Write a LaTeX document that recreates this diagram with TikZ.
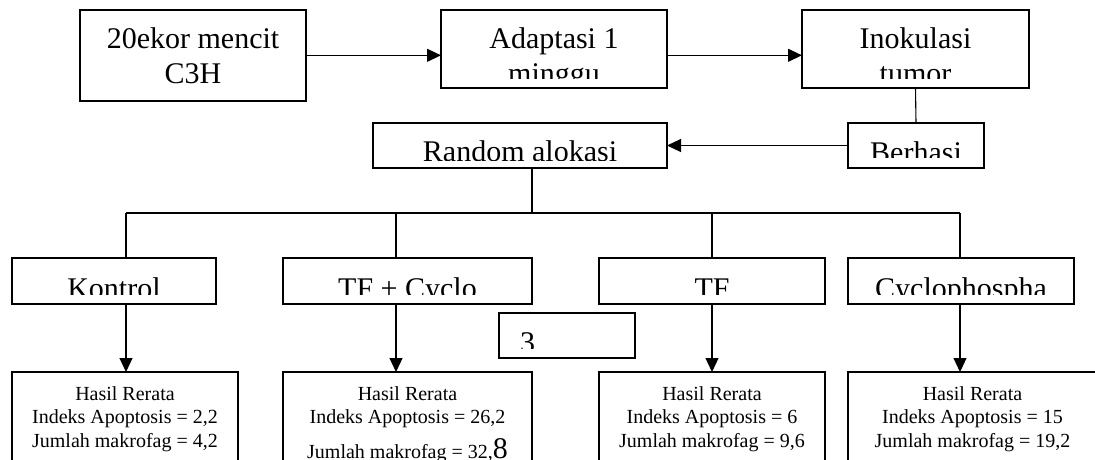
\documentclass[tikz,border=0pt]{standalone}
\usepackage{fontspec}
\setmainfont{Liberation Serif}
\usetikzlibrary{arrows.meta}
\newcommand{\besar}{\fontsize{30}{35}\selectfont}
\newcommand{\kecil}{\fontsize{20}{23.5}\selectfont}
\newcommand{\baris}[1]{\begin{tabular}[t]{@{}c@{}}#1\end{tabular}}
% clip the text a little above the lower edge of its box
\newcommand{\cutpic}[3]{%
  \clip ([yshift=#1]path picture bounding box.south west) rectangle (path picture bounding box.north east);
  \node[anchor=base,inner sep=0pt,minimum width=0pt,minimum height=0pt] at ([yshift=-#2]path picture bounding box.north) {#3};}

\begin{document}
\begin{tikzpicture}[x=1pt,y=-1pt,
  flowbox/.style={draw,line width=1.4pt,inner sep=0pt,outer sep=0pt},
  flowline/.style={line width=1.1pt},
  flowarrow/.style={line width=1.1pt,-{Triangle[length=14pt,width=13pt]}}
]
  \useasboundingbox (0,0) rectangle (1095,459);
  % top row
  \node[flowbox,minimum width=226pt,minimum height=91pt,
    path picture={\cutpic{0pt}{38.3pt}{\besar\baris{20ekor mencit\\C3H}}}] (mencit) at (193,55.3) {};
  \node[flowbox,minimum width=226pt,minimum height=78pt,
    path picture={\cutpic{9.5pt}{38.3pt}{\besar\baris{Adaptasi 1\\minggu}}}] (adapt) at (554,49) {};
  \node[flowbox,minimum width=227pt,minimum height=78pt,
    path picture={\cutpic{9.5pt}{38.3pt}{\besar\baris{Inokulasi\\tumor}}}] (inok) at (915.5,49) {};
  % second row
  \node[flowbox,minimum width=294pt,minimum height=45pt,
    path picture={\cutpic{8pt}{38.5pt}{\besar Random alokasi}}] (random) at (520,145.5) {};
  \node[flowbox,minimum width=136pt,minimum height=45pt,
    path picture={\cutpic{11pt}{39pt}{\besar Berhasi}}] (berhasil) at (916,145.5) {};
  % groups
  \node[flowbox,minimum width=204pt,minimum height=46pt,
    path picture={\cutpic{10pt}{40pt}{\besar Kontrol}}] (kontrol) at (114,281) {};
  \node[flowbox,minimum width=249pt,minimum height=46pt,
    path picture={\cutpic{10pt}{40pt}{\besar TF + Cyclo}}] (tfcyclo) at (407.5,281) {};
  \node[flowbox,minimum width=226pt,minimum height=46pt,
    path picture={\cutpic{10pt}{40pt}{\besar TF}}] (tf) at (712,281) {};
  \node[flowbox,minimum width=226pt,minimum height=46pt,
    path picture={\cutpic{10pt}{40pt}{\besar Cyclophospha}}] (cyclo) at (961,281) {};
  \node[flowbox,minimum width=136pt,minimum height=45pt,
    path picture={\clip ([yshift=10pt]path picture bounding box.south west) rectangle (path picture bounding box.north east);
      \node[anchor=base west,inner sep=0pt,minimum width=0pt,minimum height=0pt]
        at ([xshift=21pt,yshift=-39pt]path picture bounding box.north west) {\besar 3};}] (tiga) at (567,335.5) {};
  % results
  \node[flowbox,minimum width=226pt,minimum height=108pt,
    path picture={\cutpic{0pt}{28pt}{\kecil\baris{Hasil Rerata\\Indeks Apoptosis = 2,2\\Jumlah makrofag = 4,2}}}] (hkontrol) at (125,426) {};
  \node[flowbox,minimum width=249pt,minimum height=108pt,
    path picture={\cutpic{0pt}{28pt}{\kecil\baris{Hasil Rerata\\Indeks Apoptosis = 26,2\\[8pt]Jumlah makrofag = 32,{\besar 8}}}}] (htfcyclo) at (407.5,426) {};
  \node[flowbox,minimum width=226pt,minimum height=108pt,
    path picture={\cutpic{0pt}{28pt}{\kecil\baris{Hasil Rerata\\Indeks Apoptosis = 6\\Jumlah makrofag = 9,6}}}] (htf) at (712,426) {};
  \node[flowbox,minimum width=249pt,minimum height=108pt,
    path picture={\cutpic{0pt}{28pt}{\kecil\baris{Hasil Rerata\\Indeks Apoptosis = 15\\Jumlah makrofag = 19,2}}}] (hcyclo) at (972.5,426) {};
  % connectors
  \draw[flowarrow] (mencit.east) -- (adapt.west |- mencit.east);
  \draw[flowarrow] (adapt.east |- mencit.east) -- (inok.west |- mencit.east);
  \draw[flowline] (inok.south) -- (berhasil.north);
  \draw[flowarrow] (berhasil.west) -- (random.east);
  \coordinate (bus) at (532,213);
  \coordinate (d1) at (126,213);
  \coordinate (d2) at (396,213);
  \coordinate (d3) at (712,213);
  \coordinate (d4) at (960,213);
  \draw[flowline] (random.south -| bus) -- (bus);
  \draw[flowline] (d1) -- (d4);
  \foreach \d/\g/\h in {d1/kontrol/hkontrol,d2/tfcyclo/htfcyclo,d3/tf/htf,d4/cyclo/hcyclo}{
    \draw[flowline] (\d) -- (\d |- \g.north);
    \draw[flowarrow] (\d |- \g.south) -- (\d |- \h.north);
  }
\end{tikzpicture}
\end{document}
